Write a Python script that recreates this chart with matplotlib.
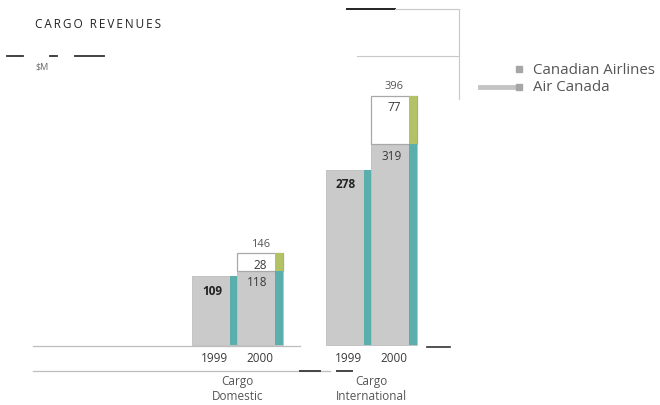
import matplotlib
matplotlib.use("Agg")
import matplotlib.pyplot as plt
import numpy as np

# Cargo revenues, $M
groups = ["Cargo\nDomestic", "Cargo\nInternational"]
years = ["1999", "2000"]
air_canada = [[109, 118], [278, 319]]
canadian = [[None, 28], [None, 77]]
totals = [[None, 146], [None, 396]]

GRAY = "#cacaca"
TEAL = "#5aaeab"
OLIVE = "#b4c266"
EDGE = "#a8a8a8"
TEXT = "#3a3a3a"

W, H = 660, 406
fig = plt.figure(figsize=(W / 100, H / 100), dpi=100)
plt.rcParams["font.family"] = ["Open Sans", "DejaVu Sans"]

ax = fig.add_axes([0, 0, 1, 1])
# y scale: 0.63 px per $M, baseline 346 px from top
scale = 0.63
base = 346
ax.set_ylim(-(H - base) / scale, base / scale)
# one group per 134 px, first group centred at 237.5 px
gstep = 134.0
g0 = 237.5
ax.set_xlim(-g0 / gstep, (W - g0) / gstep)
ax.axis("off")

bw = 45.5 / gstep
sw = 7.5 / gstep


def fx(x):
    return x / W


def fy(y):
    return 1 - y / H


def px(n):
    # vertical pixel distance in data units
    return n / scale


for gi in range(len(groups)):
    for yi in range(len(years)):
        left = gi - bw + yi * bw
        v = air_canada[gi][yi]
        ax.bar(left, v, width=bw, align="edge", color=GRAY, edgecolor="#bdbdbd",
               linewidth=0.6, zorder=2)
        ax.bar(left + bw - sw, v, width=sw, align="edge", color=TEAL,
               linewidth=0, zorder=3)
        cx = left + (bw - sw) / 2
        ax.text(cx + 0.008, v - px(14 if yi == 0 else 11), str(v), ha="center",
                va="center", fontsize=8.5,
                color="#222222" if yi == 0 else TEXT,
                fontweight="bold" if yi == 0 else "normal", zorder=4)
        c = canadian[gi][yi]
        if c is not None:
            ax.bar(left, c, bottom=v, width=bw, align="edge", color="white",
                   edgecolor=EDGE, linewidth=0.9, zorder=2)
            ax.bar(left + bw - sw, c, bottom=v, width=sw, align="edge",
                   color=OLIVE, linewidth=0, zorder=3)
            ax.text(cx + 0.025, v + c - px(11), str(c), ha="center", va="center",
                    fontsize=8.5, color=TEXT, zorder=4)
            ax.text(left + bw / 2, totals[gi][yi] + px(10), str(totals[gi][yi]),
                    ha="center", va="center", fontsize=8, color="#555555",
                    zorder=4)
        ax.text(left + bw / 2, -px(359 - base), years[yi], ha="center",
                va="center", fontsize=8.5, color=TEXT)
    ax.text(gi, -px(389 - base), groups[gi], ha="center", va="center",
            fontsize=8.5, color="#555555", linespacing=1.25)

# title and unit
title = "\u2009".join("CARGO") + "\u2009 \u2009" + "\u2009".join("REVENUES")
fig.text(fx(35), fy(25), title, ha="left", va="center", fontsize=8.5,
         color="#222222")
fig.text(fx(35), fy(67), "$M", ha="left", va="center", fontsize=6.5,
         color="#666666")

# legend
fig.text(fx(533), fy(70), "Canadian Airlines", ha="left", va="center",
         fontsize=10.8, color="#555555")
fig.text(fx(533), fy(88), "Air Canada", ha="left", va="center",
         fontsize=10.8, color="#555555")
for y in (70, 88):
    fig.patches.append(plt.Rectangle((fx(516), fy(y + 3)), 6 / W, 6 / H,
                                     transform=fig.transFigure,
                                     color="#a6a6a6", zorder=5))
fig.add_artist(plt.Line2D([fx(480), fx(515)], [fy(88), fy(88)],
                          color="#c4c4c4", linewidth=3.5))

# rules and frame fragments
rules = [
    ((33, 300), (347, 347), "#bdbdbd", 0.9),
    ((427, 450), (348, 348), "#333333", 1.2),
    ((33, 330), (372, 372), "#bdbdbd", 0.9),
    ((300, 320), (372, 372), "#444444", 1.4),
    ((337, 352), (372, 372), "#444444", 1.4),
    ((7, 23), (57, 57), "#333333", 1.3),
    ((50, 57), (57, 57), "#333333", 1.3),
    ((75, 104), (57, 57), "#333333", 1.3),
    ((347, 395), (10, 10), "#222222", 1.4),
    ((395, 459), (10, 10), "#c8c8c8", 0.8),
    ((357, 459), (57, 57), "#c8c8c8", 0.8),
    ((459, 459), (10, 100), "#c8c8c8", 0.8),
]
for xs, ys, col, lw in rules:
    fig.add_artist(plt.Line2D([fx(xs[0]), fx(xs[1])], [fy(ys[0]), fy(ys[1])],
                              color=col, linewidth=lw))

fig.savefig("out.png", dpi=100, facecolor="white")
